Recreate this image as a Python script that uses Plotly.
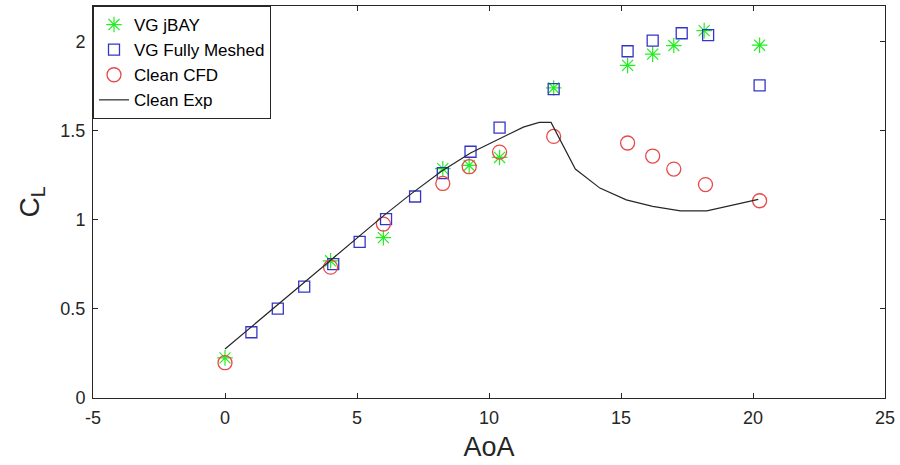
import plotly.graph_objects as go

# VG jBAY (green asterisks)
jbay_aoa = [0, 4.0, 6.0, 8.25, 9.25, 10.4, 12.45, 15.25, 16.2, 17.0, 18.15, 20.25]
jbay_cl = [0.225, 0.77, 0.90, 1.287, 1.305, 1.35, 1.74, 1.867, 1.93, 1.978, 2.062, 1.98]

# VG Fully Meshed (blue squares)
mesh_aoa = [1.0, 2.0, 3.0, 4.1, 5.1, 6.1, 7.2, 8.25, 9.3, 10.4, 12.45, 15.25, 16.2, 17.3, 18.3, 20.25]
mesh_cl = [0.369, 0.502, 0.625, 0.751, 0.876, 1.004, 1.131, 1.262, 1.382, 1.517, 1.734, 1.946, 2.006, 2.047, 2.036, 1.755]

# Clean CFD (red circles)
cfd_aoa = [0, 4.0, 6.0, 8.25, 9.25, 10.4, 12.45, 15.25, 16.2, 17.0, 18.2, 20.25]
cfd_cl = [0.198, 0.734, 0.976, 1.204, 1.298, 1.38, 1.468, 1.431, 1.358, 1.285, 1.198, 1.107]

# Clean Exp (black line)
exp_aoa = [0, 2, 4, 6, 7, 8.2, 9.3, 10.4, 11.3, 11.9, 12.35, 13.27, 14.2, 15.2, 16.2, 17.25, 18.25, 20.2]
exp_cl = [0.275, 0.525, 0.775, 1.022, 1.14, 1.272, 1.375, 1.453, 1.52, 1.547, 1.547, 1.285, 1.178, 1.112, 1.075, 1.05, 1.05, 1.115]

x_ticks = [-5, 0, 5, 10, 15, 20, 25]
x_labels = ['-5', '0', '5', '10', '15', '20', '25']
y_ticks = [0, 0.5, 1, 1.5, 2]
y_labels = ['0', '0.5', '1', '1.5', '2']

axis_col = '#262626'
font_fam = 'Liberation Sans, Arial, sans-serif'

fig = go.Figure()
fig.add_trace(go.Scatter(x=jbay_aoa, y=jbay_cl, mode='markers', name='VG jBAY',
                         marker=dict(symbol='asterisk-open', size=13, color='#22ee22',
                                     line=dict(color='#22ee22', width=1.2))))
fig.add_trace(go.Scatter(x=mesh_aoa, y=mesh_cl, mode='markers', name='VG Fully Meshed',
                         marker=dict(symbol='square-open', size=11, color='#3535c8',
                                     line=dict(color='#3535c8', width=1.3))))
fig.add_trace(go.Scatter(x=cfd_aoa, y=cfd_cl, mode='markers', name='Clean CFD',
                         marker=dict(symbol='circle-open', size=14, color='#e84a4a',
                                     line=dict(color='#e84a4a', width=1.3))))
fig.add_trace(go.Scatter(x=exp_aoa, y=exp_cl, mode='lines', name='Clean Exp',
                         line=dict(color='#262626', width=1.2)))

fig.update_xaxes(range=[-5, 25], tickvals=x_ticks, ticktext=x_labels,
                 ticks='inside', ticklen=5, automargin=False, ticklabelstandoff=3,
                 tickcolor=axis_col, showline=True, linecolor=axis_col, linewidth=1,
                 mirror='ticks', showgrid=False, zeroline=False,
                 tickfont=dict(size=18, color=axis_col),
                 title=dict(text='AoA', font=dict(size=27, color=axis_col), standoff=10))
fig.update_yaxes(range=[0, 2.2], tickvals=y_ticks, ticktext=y_labels,
                 ticks='inside', ticklen=5, automargin=False, ticklabelstandoff=3,
                 tickcolor=axis_col, showline=True, linecolor=axis_col, linewidth=1,
                 mirror='ticks', showgrid=False, zeroline=False,
                 tickfont=dict(size=18, color=axis_col),
                 title=dict(text='C<sub>L</sub>', font=dict(size=28, color=axis_col), standoff=12))

fig.update_layout(width=900, height=465, template='simple_white',
                  plot_bgcolor='white', paper_bgcolor='white',
                  font=dict(family=font_fam, color=axis_col),
                  margin=dict(l=93, r=15, t=6, b=67),
                  showlegend=True,
                  legend=dict(x=0, y=1, xanchor='left', yanchor='top',
                              bgcolor='white', bordercolor=axis_col, borderwidth=1,
                              font=dict(size=17, color='black'),
                              tracegroupgap=0))
# page body has a default 8px margin, drop it so the figure sits at the corner
fig.write_html("out.html", config={'displayModeBar': False},
               post_script="document.body.style.margin='0';")
